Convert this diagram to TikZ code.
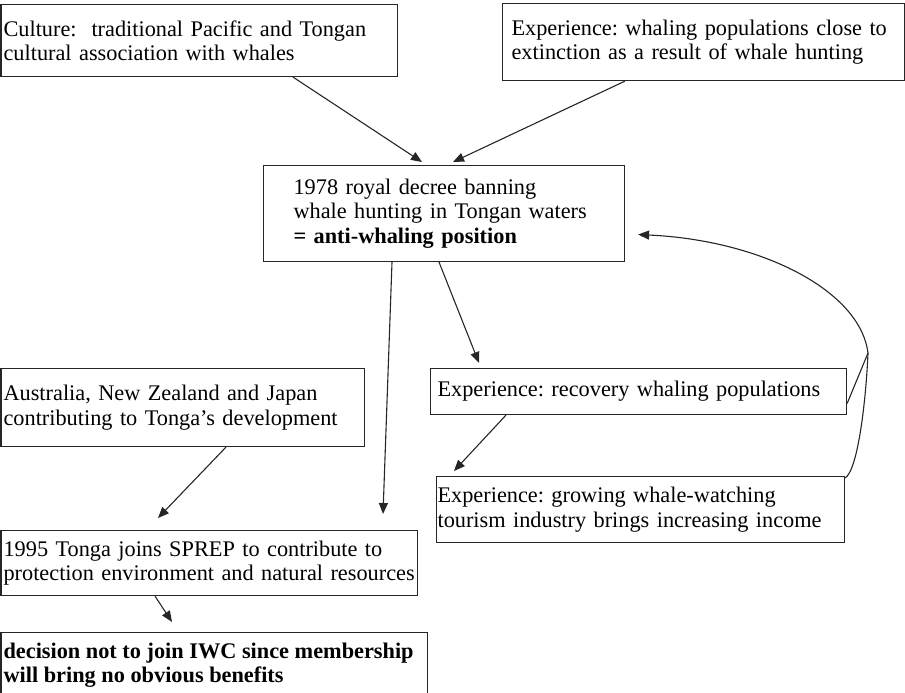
\documentclass[tikz,border=0pt]{standalone}
\usepackage{fontspec}
\setmainfont{Liberation Serif}
\usetikzlibrary{arrows.meta}
\begin{document}
\frenchspacing
\hyphenpenalty=10000\relax
\begin{tikzpicture}[x=1pt,y=-1pt,
  box/.style={draw=black!85, line width=1.1pt, rectangle, anchor=north west, align=left,
    font=\fontsize{22.3}{24.5}\selectfont\frenchspacing, inner ysep=0pt},
  conn/.style={draw=black!85, line width=1.1pt, -{Triangle[length=11pt,width=9pt]}},
  link/.style={draw=black!85, line width=1.1pt}]
\useasboundingbox (0,0) rectangle (905,693);
\clip (0,0) rectangle (905,693);

\node[box, minimum width=396.5pt, minimum height=72pt, text width=391.5pt, inner xsep=2.5pt] (culture) at (0.5,4)
  {Culture:\ \ traditional Pacific and Tongan\\cultural association with whales};
\node[box, minimum width=402pt, minimum height=77pt, text width=384pt, inner xsep=9pt] (exp1) at (502,3)
  {Experience: whaling populations close to\\extinction as a result of whale hunting};
\node[box, minimum width=361pt, minimum height=96pt, text width=301pt, inner xsep=30pt] (center) at (263,165)
  {1978 royal decree banning\\whale hunting in Tongan waters\\\textbf{= anti-whaling position}};
\node[box, minimum width=363.5pt, minimum height=78pt, text width=358.5pt, inner xsep=2.5pt] (aus) at (0.5,368)
  {Australia, New Zealand and Japan\\contributing to Tonga’s development};
\node[box, minimum width=416pt, minimum height=46pt, text width=402pt, inner xsep=7pt] (recovery) at (430,368)
  {Experience: recovery whaling populations};
\node[box, minimum width=408pt, minimum height=66pt, text width=406pt, inner xsep=1pt] (growing) at (436,476)
  {Experience: growing whale-watching\\tourism industry brings increasing income};
\node[box, minimum width=416.5pt, minimum height=65pt, text width=411.5pt, inner xsep=2.5pt] (sprep) at (0.5,530)
  {1995 Tonga joins SPREP to contribute to\\protection environment and natural resources};
\node[box, minimum width=426.5pt, minimum height=100pt, inner xsep=2.5pt, inner ysep=9.6pt, align=left] (decision) at (0.5,632)
  {\parbox[t][80pt][t]{421.5pt}{\bfseries decision not to join IWC since membership\\will bring no obvious benefits}};

\coordinate (j) at (868,353);

\draw[conn] ([xshift=292.5pt]culture.south west) -- ([xshift=159pt,yshift=3pt]center.north west);
\draw[conn] ([xshift=123pt]exp1.south west) -- ([xshift=190pt,yshift=3pt]center.north west);
\draw[conn] ([xshift=176pt]center.south west) -- ([xshift=49pt,yshift=5pt]recovery.north west);
\draw[conn] ([xshift=129pt]center.south west) -- ([xshift=382.5pt,yshift=16pt]sprep.north west);
\draw[conn] ([xshift=76pt]recovery.south west) -- ([xshift=18pt,yshift=5pt]growing.north west);
\draw[conn] ([xshift=225.5pt]aus.south west) -- ([xshift=157.5pt,yshift=12pt]sprep.north west);
\draw[conn] ([xshift=154.5pt]sprep.south west) -- ([xshift=171.5pt,yshift=10pt]decision.north west);

\draw[link] ([yshift=-12pt]recovery.east) -- (j);
\draw[link] ([yshift=-2pt]growing.north east) .. controls (858,470) and (866,400) .. (j);
\draw[conn] (j) .. controls (860,290) and (760,240) .. ([xshift=13pt,yshift=-21pt]center.east);
\end{tikzpicture}
\end{document}
